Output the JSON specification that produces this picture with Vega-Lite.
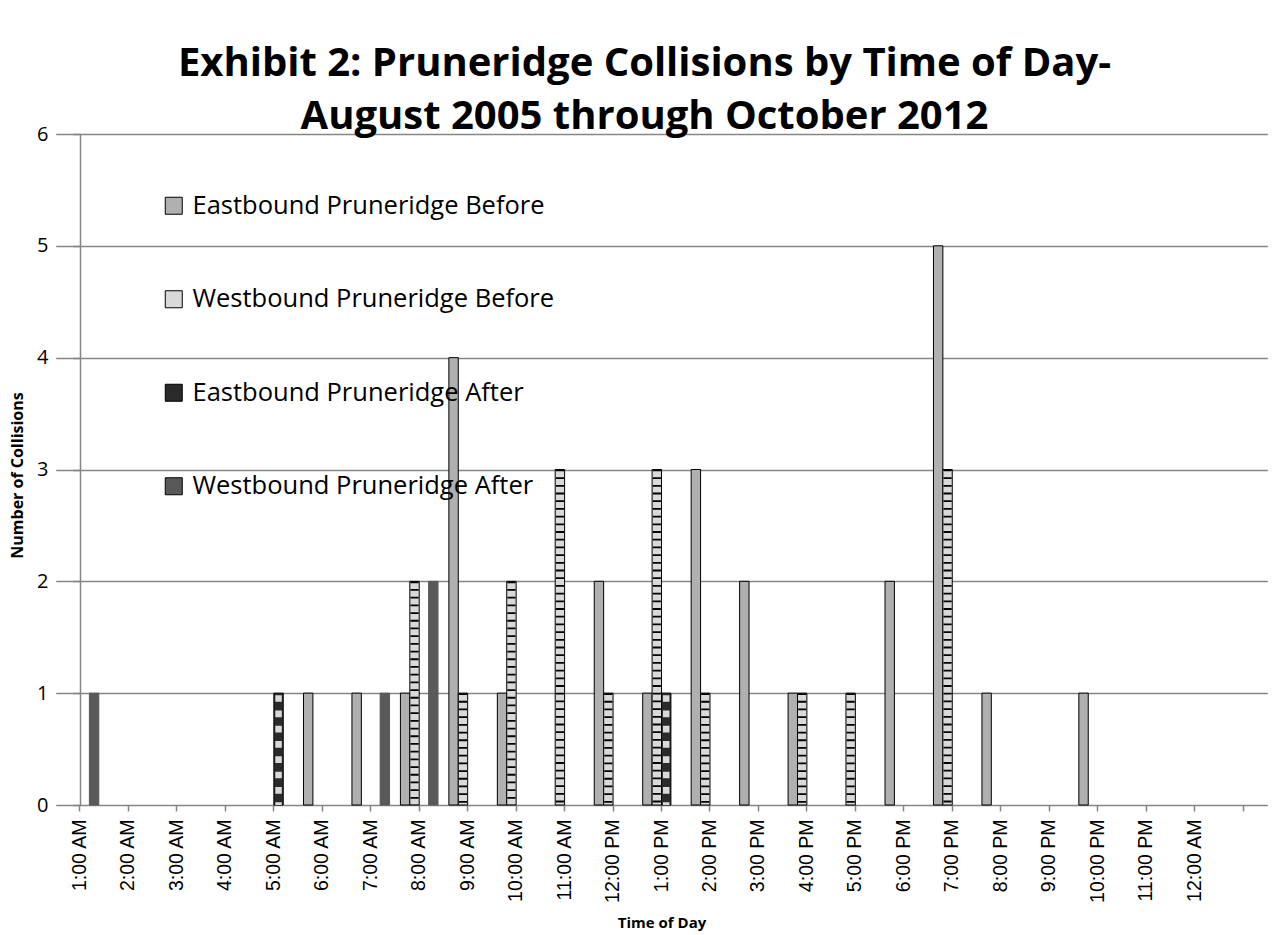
{
  "$schema": "https://vega.github.io/schema/vega-lite/v6.json",
  "width": 1163,
  "height": 671,
  "autosize": {"type": "none"},
  "padding": {"left": 80, "top": 134, "right": 38, "bottom": 130},
  "background": "white",
  "config": {"view": {"stroke": null}, "font": "Open Sans"},
  "title": {
    "text": ["Exhibit 2: Pruneridge Collisions by Time of Day-", "August 2005 through October 2012"],
    "font": "Open Sans", "fontSize": 40, "fontWeight": "bold", "color": "black",
    "lineHeight": 53.4, "anchor": "middle", "frame": "group", "offset": -13, "dx": -17
  },
  "data": {"values": [
    {"hour": "1:00 AM", "series": "Westbound Pruneridge After", "count": 1},
    {"hour": "5:00 AM", "series": "Eastbound Pruneridge After", "count": 1},
    {"hour": "6:00 AM", "series": "Eastbound Pruneridge Before", "count": 1},
    {"hour": "7:00 AM", "series": "Eastbound Pruneridge Before", "count": 1},
    {"hour": "7:00 AM", "series": "Westbound Pruneridge After", "count": 1},
    {"hour": "8:00 AM", "series": "Eastbound Pruneridge Before", "count": 1},
    {"hour": "8:00 AM", "series": "Westbound Pruneridge Before", "count": 2},
    {"hour": "8:00 AM", "series": "Westbound Pruneridge After", "count": 2},
    {"hour": "9:00 AM", "series": "Eastbound Pruneridge Before", "count": 4},
    {"hour": "9:00 AM", "series": "Westbound Pruneridge Before", "count": 1},
    {"hour": "10:00 AM", "series": "Eastbound Pruneridge Before", "count": 1},
    {"hour": "10:00 AM", "series": "Westbound Pruneridge Before", "count": 2},
    {"hour": "11:00 AM", "series": "Westbound Pruneridge Before", "count": 3},
    {"hour": "12:00 PM", "series": "Eastbound Pruneridge Before", "count": 2},
    {"hour": "12:00 PM", "series": "Westbound Pruneridge Before", "count": 1},
    {"hour": "1:00 PM", "series": "Eastbound Pruneridge Before", "count": 1},
    {"hour": "1:00 PM", "series": "Westbound Pruneridge Before", "count": 3},
    {"hour": "1:00 PM", "series": "Eastbound Pruneridge After", "count": 1},
    {"hour": "2:00 PM", "series": "Eastbound Pruneridge Before", "count": 3},
    {"hour": "2:00 PM", "series": "Westbound Pruneridge Before", "count": 1},
    {"hour": "3:00 PM", "series": "Eastbound Pruneridge Before", "count": 2},
    {"hour": "4:00 PM", "series": "Eastbound Pruneridge Before", "count": 1},
    {"hour": "4:00 PM", "series": "Westbound Pruneridge Before", "count": 1},
    {"hour": "5:00 PM", "series": "Westbound Pruneridge Before", "count": 1},
    {"hour": "6:00 PM", "series": "Eastbound Pruneridge Before", "count": 2},
    {"hour": "7:00 PM", "series": "Eastbound Pruneridge Before", "count": 5},
    {"hour": "7:00 PM", "series": "Westbound Pruneridge Before", "count": 3},
    {"hour": "8:00 PM", "series": "Eastbound Pruneridge Before", "count": 1},
    {"hour": "10:00 PM", "series": "Eastbound Pruneridge Before", "count": 1}
  ]},
  "encoding": {
    "x": {
      "field": "hour", "type": "nominal", "sort": null,
      "scale": {
        "domain": ["1:00 AM", "2:00 AM", "3:00 AM", "4:00 AM", "5:00 AM", "6:00 AM", "7:00 AM", "8:00 AM", "9:00 AM", "10:00 AM", "11:00 AM", "12:00 PM", "1:00 PM", "2:00 PM", "3:00 PM", "4:00 PM", "5:00 PM", "6:00 PM", "7:00 PM", "8:00 PM", "9:00 PM", "10:00 PM", "11:00 PM", "12:00 AM", "end"],
        "range": [-24.23, 1187.25],
        "paddingInner": 0.224,
        "paddingOuter": 0.112
      },
      "axis": {
        "title": "Time of Day", "titleFont": "Open Sans", "titleFontSize": 15, "titleFontWeight": "bold", "titleColor": "black", "titlePadding": 13,
        "labelFont": "Liberation Sans", "labelFontSize": 19.5, "labelColor": "black", "labelAngle": -90, "labelPadding": 8,
        "labelOverlap": false, "labelExpr": "datum.value == 'end' ? '' : datum.value",
        "tickSize": 6, "tickColor": "#868686", "tickWidth": 1.5, "domain": false, "grid": false
      }
    },
    "xOffset": {
      "field": "series", "type": "nominal",
      "scale": {"domain": ["Eastbound Pruneridge Before", "Westbound Pruneridge Before", "Eastbound Pruneridge After", "Westbound Pruneridge After"], "paddingInner": 0, "paddingOuter": 0}
    },
    "y": {
      "field": "count", "type": "quantitative",
      "scale": {"domain": [0, 6], "nice": false},
      "axis": {
        "values": [0, 1, 2, 3, 4, 5, 6],
        "title": "Number of Collisions", "titleFont": "Open Sans", "titleFontSize": 16, "titleFontWeight": "bold", "titleColor": "black", "titlePadding": 11, "titleY": 341,
        "labelFont": "Open Sans", "labelFontSize": 20, "labelColor": "black", "labelPadding": 25,
        "tickSize": 7, "tickColor": "#868686", "tickWidth": 1.5,
        "domainColor": "#868686", "domainWidth": 1.5,
        "grid": true, "gridColor": "#868686", "gridWidth": 1.5
      }
    }
  },
  "layer": [
    {
      "mark": {"type": "bar", "strokeWidth": 1},
      "encoding": {
        "color": {
          "field": "series", "type": "nominal",
          "scale": {
            "domain": ["Eastbound Pruneridge Before", "Westbound Pruneridge Before", "Eastbound Pruneridge After", "Westbound Pruneridge After"],
            "range": ["#b0b0b0", "#d9d9d9", "#2a2a2a", "#595959"]
          },
          "legend": {
            "orient": "none", "legendX": 81, "legendY": 59, "title": null, "padding": 0,
            "labelFont": "Open Sans", "labelFontSize": 25.5, "labelColor": "black", "labelOffset": 6, "labelLimit": 0,
            "symbolType": "square", "symbolSize": 289, "symbolStrokeColor": "black", "symbolStrokeWidth": 1,
            "rowPadding": 66.5
          }
        },
        "stroke": {
          "condition": {"test": "datum.series == 'Westbound Pruneridge After'", "value": "#595959"},
          "value": "black"
        }
      }
    },
    {
      "transform": [{"filter": "datum.series == 'Westbound Pruneridge Before'"}],
      "mark": {"type": "rule", "color": "black", "strokeWidth": 8.2, "strokeDash": [1.8, 5.9]},
      "encoding": {"y2": {"datum": 0}}
    },
    {
      "transform": [{"filter": "datum.series == 'Eastbound Pruneridge After'"}],
      "mark": {"type": "rule", "color": "#d9d9d9", "strokeWidth": 6.5, "strokeDash": [6.7, 8.6], "strokeDashOffset": -2},
      "encoding": {"y2": {"datum": 0}}
    }
  ]
}
